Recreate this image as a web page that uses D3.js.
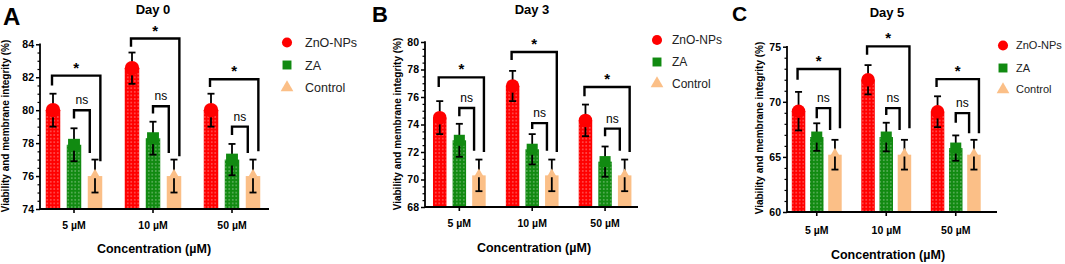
<!DOCTYPE html>
<html><head><meta charset="utf-8">
<script src="https://cdn.jsdelivr.net/npm/d3@7"></script>
<style>
html,body{margin:0;padding:0;background:#fff;}
svg{display:block;font-family:"Liberation Sans",Arial,sans-serif;}
</style></head>
<body>
<svg id="chart" width="1065" height="264"></svg>
<script>
// ---------- data ----------
const groups = ["5 µM", "10 µM", "50 µM"];
const series = ["ZnO-NPs", "ZA", "Control"];

const day0Zno = [80.0, 82.55, 80.0];
const day0ZnoErr = [1.0, 0.95, 1.0];
const day0ZA = [77.9, 78.3, 77.0];
const day0ZAErr = [1.0, 1.0, 0.95];
const day0Ctrl = [76.0, 76.0, 76.0];
const day0CtrlErr = [1.0, 1.0, 1.0];

const day3Zno = [74.5, 76.8, 74.3];
const day3ZnoErr = [1.2, 1.1, 1.15];
const day3ZA = [72.85, 72.2, 71.3];
const day3ZAErr = [1.2, 1.1, 1.1];
const day3Ctrl = [70.3, 70.3, 70.3];
const day3CtrlErr = [1.15, 1.15, 1.15];

const day5Zno = [69.15, 72.0, 69.1];
const day5ZnoErr = [1.75, 1.33, 1.4];
const day5ZA = [66.8, 66.8, 65.8];
const day5ZAErr = [1.25, 1.3, 1.15];
const day5Ctrl = [65.2, 65.2, 65.2];
const day5CtrlErr = [1.35, 1.35, 1.35];

// significance brackets: level, left-leg end, right-leg end (data units)
const day0StarTop = [82.1, 84.35, 81.88];
const day0StarLeft = [81.5, 83.85, 81.4];
const day0StarRight = [76.9, 77.2, 77.5];
const day0NsTop = [80.0, 80.24, 79.0];
const day0NsLeft = [79.5, 79.8, 78.5];
const day0NsRight = [77.4, 77.4, 77.4];

const day3StarTop = [77.43, 79.27, 76.73];
const day3StarLeft = [76.73, 78.7, 76.05];
const day3StarRight = [72.0, 72.0, 72.0];
const day3NsTop = [75.2, 74.1, 73.7];
const day3NsLeft = [74.6, 73.67, 73.14];
const day3NsRight = [72.1, 72.1, 72.1];

const day5StarTop = [72.97, 75.03, 72.06];
const day5StarLeft = [72.0, 74.27, 71.34];
const day5StarRight = [67.6, 67.6, 67.15];
const day5NsTop = [69.43, 69.43, 68.97];
const day5NsLeft = [68.5, 68.8, 68.1];
const day5NsRight = [67.45, 67.45, 67.15];

const day0Ticks = [74, 76, 78, 80, 82, 84];
const day3Ticks = [68, 70, 72, 74, 76, 78, 80];
const day5Ticks = [60, 65, 70, 75];

// ---------- styling / layout ----------
const colors = {"ZnO-NPs": "#ff0000", "ZA": "#118a11", "Control": "#fbbf87"};
const FONT = '"Liberation Sans", Arial, sans-serif';

const panels = [
  {letter: "A", title: "Day 0",
   vals: [day0Zno, day0ZA, day0Ctrl], errs: [day0ZnoErr, day0ZAErr, day0CtrlErr],
   star: [day0StarTop, day0StarLeft, day0StarRight], ns: [day0NsTop, day0NsLeft, day0NsRight],
   domain: [74, 84], ticks: day0Ticks, minor: 0.5,
   yr: [209, 44.3], ax: [40, 269], band: [34.5, 271.5], inStep: 21, bw: 14.5,
   letterX: 3, letterY: 25, letterFont: 24, titleX: 153, titleY: 14,
   ylabX: 9, ylabY: 126, xtitleX: 154, xtitleY: 253, xlabY: 229,
   legX: 287, legY: [42.5, 65, 87.5], legTX: 305, legFont: 12.5},
  {letter: "B", title: "Day 3",
   vals: [day3Zno, day3ZA, day3Ctrl], errs: [day3ZnoErr, day3ZAErr, day3CtrlErr],
   star: [day3StarTop, day3StarLeft, day3StarRight], ns: [day3NsTop, day3NsLeft, day3NsRight],
   domain: [68, 80], ticks: day3Ticks, minor: 0.5,
   yr: [207, 42], ax: [425, 638], band: [422.9, 641.5], inStep: 19.6, bw: 13.5,
   letterX: 372, letterY: 22, letterFont: 22, titleX: 532, titleY: 14,
   ylabX: 401, ylabY: 124, xtitleX: 534, xtitleY: 252, xlabY: 227,
   legX: 657, legY: [40, 62, 83.5], legTX: 672, legFont: 12},
  {letter: "C", title: "Day 5",
   vals: [day5Zno, day5ZA, day5Ctrl], errs: [day5ZnoErr, day5ZAErr, day5CtrlErr],
   star: [day5StarTop, day5StarLeft, day5StarRight], ns: [day5NsTop, day5NsLeft, day5NsRight],
   domain: [60, 75], ticks: day5Ticks, minor: 1,
   yr: [212, 46.7], ax: [787, 997], band: [782, 990.5], inStep: 18.2, bw: 13.5,
   letterX: 732, letterY: 21, letterFont: 21, titleX: 887, titleY: 17,
   ylabX: 763, ylabY: 128, xtitleX: 888, xtitleY: 259, xlabY: 234,
   legX: 1003, legY: [45.5, 68, 89.5], legTX: 1016, legFont: 11}
];

const svg = d3.select("#chart");
svg.append("rect").attr("width", 1065).attr("height", 264).attr("fill", "#fff");

const defs = svg.append("defs");
const pat = defs.append("pattern").attr("id", "dots")
  .attr("patternUnits", "userSpaceOnUse").attr("width", 3.5).attr("height", 3.6);
pat.append("rect").attr("x", 1.1).attr("y", 1.2).attr("width", 1.3).attr("height", 1.2)
  .attr("fill", "#ffffff").attr("opacity", 0.55);

function markerPath(s, size) {
  const sym = s === "ZnO-NPs" ? d3.symbolCircle : (s === "ZA" ? d3.symbolSquare : d3.symbolTriangle);
  return d3.symbol().type(sym).size(size)();
}

panels.forEach(p => {
  const g = svg.append("g");
  const y = d3.scaleLinear().domain(p.domain).range(p.yr);
  const x = d3.scaleBand().domain(groups).range(p.band).padding(0);
  const q = 1 - p.bw / p.inStep;
  const xi = d3.scaleBand().domain(series)
    .range([-1.5 * p.inStep, 1.5 * p.inStep]).paddingInner(q).paddingOuter(q / 2);
  const gc = gname => x(gname) + x.bandwidth() / 2;
  const bc = (gname, s) => gc(gname) + xi(s) + xi.bandwidth() / 2;

  // bars
  series.forEach((s, si) => {
    groups.forEach((gr, gi) => {
      const v = p.vals[si][gi];
      const x0 = gc(gr) + xi(s);
      g.append("rect").attr("x", x0).attr("y", y(v)).attr("width", xi.bandwidth())
        .attr("height", y(p.domain[0]) - y(v)).attr("fill", colors[s]);
      if (s !== "Control") {
        g.append("rect").attr("x", x0).attr("y", y(v)).attr("width", xi.bandwidth())
          .attr("height", y(p.domain[0]) - y(v)).attr("fill", "url(#dots)");
      }
    });
  });

  // error bars
  series.forEach((s, si) => {
    groups.forEach((gr, gi) => {
      const v = p.vals[si][gi], e = p.errs[si][gi];
      const cx = bc(gr, s);
      const eg = g.append("g").attr("stroke", "#000").attr("stroke-width", 1.8);
      eg.append("line").attr("x1", cx).attr("x2", cx).attr("y1", y(v - e)).attr("y2", y(v + e));
      eg.append("line").attr("x1", cx - 3.5).attr("x2", cx + 3.5).attr("y1", y(v + e)).attr("y2", y(v + e));
      eg.append("line").attr("x1", cx - 3.5).attr("x2", cx + 3.5).attr("y1", y(v - e)).attr("y2", y(v - e));
    });
  });

  // bar-top markers
  series.forEach((s, si) => {
    groups.forEach((gr, gi) => {
      const v = p.vals[si][gi];
      const cx = bc(gr, s);
      const bwid = xi.bandwidth();
      let size = s === "ZnO-NPs" ? Math.PI * Math.pow(bwid / 2, 2)
               : (s === "ZA" ? Math.pow(bwid * 0.82, 2) : Math.pow(bwid * 0.75, 2) * 0.43);
      g.append("path").attr("d", markerPath(s, size))
        .attr("transform", `translate(${cx},${y(v) + (s === "Control" ? -1 : 0)})`)
        .attr("fill", colors[s]);
    });
  });

  // axes
  const yAxis = d3.axisLeft(y).tickValues(p.ticks).tickSize(4).tickPadding(2);
  const ya = g.append("g").attr("transform", `translate(${p.ax[0]},0)`).call(yAxis);
  ya.select(".domain").remove();
  ya.selectAll("line").attr("stroke", "#000").attr("stroke-width", 1.5);
  ya.selectAll("text").attr("font-family", FONT).attr("font-weight", "bold")
    .attr("font-size", 10.5).attr("fill", "#000");
  const minorVals = d3.range(p.domain[0], p.domain[1] + 1e-9, p.minor)
    .filter(v => !p.ticks.includes(+v.toFixed(3)));
  const ym = g.append("g").attr("transform", `translate(${p.ax[0]},0)`)
    .call(d3.axisLeft(y).tickValues(minorVals).tickSize(2.5).tickFormat(""));
  ym.select(".domain").remove();
  ym.selectAll("line").attr("stroke", "#000").attr("stroke-width", 1.2);
  g.append("line").attr("x1", p.ax[0]).attr("x2", p.ax[0])
    .attr("y1", y(p.domain[1]) - 0.7).attr("y2", y(p.domain[0]) + 1)
    .attr("stroke", "#000").attr("stroke-width", 1.8);

  const xAxis = d3.axisBottom(x).tickSize(4).tickFormat("");
  const xa = g.append("g").attr("transform", `translate(0,${y(p.domain[0])})`).call(xAxis);
  xa.select(".domain").remove();
  xa.selectAll("line").attr("stroke", "#000").attr("stroke-width", 1.6);
  g.append("line").attr("x1", p.ax[0]).attr("x2", p.ax[1])
    .attr("y1", y(p.domain[0])).attr("y2", y(p.domain[0]))
    .attr("stroke", "#000").attr("stroke-width", 1.8);
  groups.forEach(gr => {
    g.append("text").attr("x", gc(gr)).attr("y", p.xlabY).attr("text-anchor", "middle")
      .attr("font-family", FONT).attr("font-weight", "bold").attr("font-size", 10.5)
      .text(gr);
  });

  // significance brackets
  groups.forEach((gr, gi) => {
    const bwid = xi.bandwidth();
    const xl = bc(gr, "ZnO-NPs") - 1, xr = bc(gr, "Control") + bwid * 0.37;
    const st = p.star;
    g.append("path").attr("fill", "none").attr("stroke", "#000").attr("stroke-width", 2.4)
      .attr("stroke-linejoin", "miter")
      .attr("d", `M${xl},${y(st[1][gi])}V${y(st[0][gi])}H${xr}V${y(st[2][gi])}`);
    g.append("text").attr("x", (xl + xr) / 2).attr("y", y(st[0][gi]) - 3)
      .attr("text-anchor", "middle").attr("font-family", FONT).attr("font-weight", "bold")
      .attr("font-size", 15).text("*");
    const nl = bc(gr, "ZA"), nr = bc(gr, "Control") - bwid * 0.36;
    const ns = p.ns;
    g.append("path").attr("fill", "none").attr("stroke", "#000").attr("stroke-width", 2.4)
      .attr("d", `M${nl},${y(ns[1][gi])}V${y(ns[0][gi])}H${nr}V${y(ns[2][gi])}`);
    g.append("text").attr("x", (nl + nr) / 2).attr("y", y(ns[0][gi]) - 6)
      .attr("text-anchor", "middle").attr("font-family", FONT)
      .attr("font-size", 12).attr("fill", "#000").text("ns");
  });

  // titles & labels
  g.append("text").attr("x", p.letterX).attr("y", p.letterY).attr("font-family", FONT)
    .attr("font-weight", "bold").attr("font-size", p.letterFont).text(p.letter);
  g.append("text").attr("x", p.titleX).attr("y", p.titleY).attr("text-anchor", "middle")
    .attr("font-family", FONT).attr("font-weight", "bold").attr("font-size", 13).text(p.title);
  g.append("text").attr("transform", `translate(${p.ylabX},${p.ylabY}) rotate(-90)`)
    .attr("text-anchor", "middle").attr("font-family", FONT).attr("font-weight", "bold")
    .attr("font-size", 10).text("Viability and membrane integrity (%)");
  g.append("text").attr("x", p.xtitleX).attr("y", p.xtitleY).attr("text-anchor", "middle")
    .attr("font-family", FONT).attr("font-weight", "bold").attr("font-size", 12.5)
    .text("Concentration (µM)");

  // legend
  series.forEach((s, si) => {
    const size = s === "ZnO-NPs" ? 80 : (s === "ZA" ? 80 : 70);
    g.append("path").attr("d", markerPath(s, size))
      .attr("transform", `translate(${p.legX},${p.legY[si]})`).attr("fill", colors[s]);
    g.append("text").attr("x", p.legTX).attr("y", p.legY[si] + p.legFont * 0.36)
      .attr("font-family", FONT).attr("font-size", p.legFont).attr("fill", "#222").text(s);
  });
});
</script>
</body></html>
